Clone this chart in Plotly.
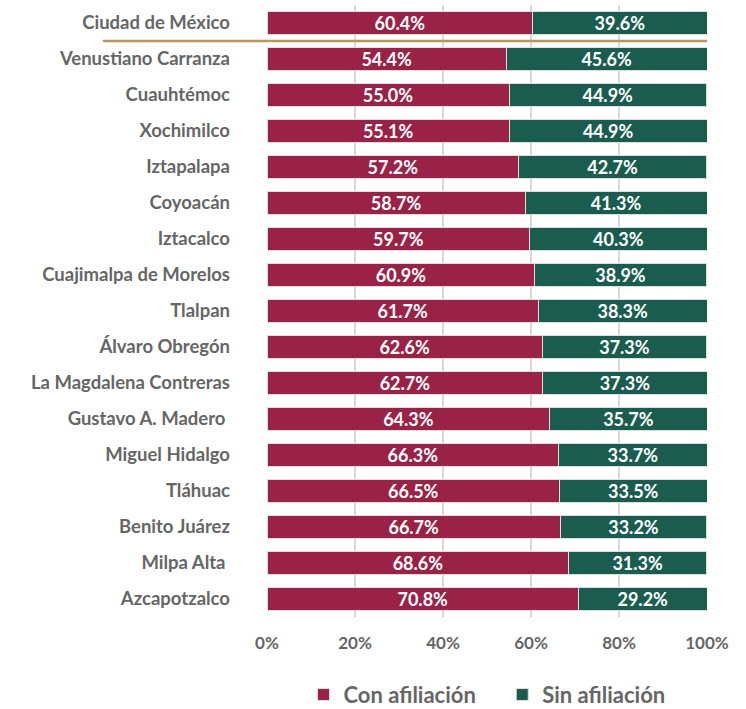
import plotly.graph_objects as go

categories = ["Ciudad de México", "Venustiano Carranza", "Cuauhtémoc", "Xochimilco",
              "Iztapalapa", "Coyoacán", "Iztacalco", "Cuajimalpa de Morelos", "Tlalpan",
              "Álvaro Obregón", "La Magdalena Contreras", "Gustavo A. Madero ",
              "Miguel Hidalgo", "Tláhuac", "Benito Juárez", "Milpa Alta ", "Azcapotzalco"]
con_afiliacion = [60.4, 54.4, 55.0, 55.1, 57.2, 58.7, 59.7, 60.9, 61.7, 62.6, 62.7,
                  64.3, 66.3, 66.5, 66.7, 68.6, 70.8]
sin_afiliacion = [39.6, 45.6, 44.9, 44.9, 42.7, 41.3, 40.3, 38.9, 38.3, 37.3, 37.3,
                  35.7, 33.7, 33.5, 33.2, 31.3, 29.2]
series_names = ["Con afiliación", "Sin afiliación"]
x_ticks = [0, 20, 40, 60, 80, 100]
x_tick_labels = ["0%", "20%", "40%", "60%", "80%", "100%"]

RED = "#9B2247"
GREEN = "#1A5D4F"
GOLD = "#BC955C"
GRAY = "#666666"
FONT = "Lato"

fig = go.Figure()
for name, vals, col, pad in [(series_names[0], con_afiliacion, RED, "\u00a0\u00a0\u00a0\u00a0"),
                             (series_names[1], sin_afiliacion, GREEN, "")]:
    fig.add_trace(go.Bar(
        name=name + pad, y=categories, x=vals, orientation="h",
        marker=dict(color=col, line=dict(color="#dddddd", width=1)),
        text=[f"{v:.1f}%" for v in vals], textposition="inside",
        insidetextanchor="middle", constraintext="none",
        textfont=dict(family=FONT, size=18, color="white", weight="bold"),
        hoverinfo="skip",
    ))

fig.add_shape(type="line", xref="paper", yref="y", x0=-0.373, x1=1.0, y0=0.5, y1=0.5,
              line=dict(color=GOLD, width=2.5), layer="above")

fig.update_layout(
    barmode="stack", bargap=0.36,
    width=746, height=709,
    margin=dict(l=267, r=39, t=5, b=92, autoexpand=False),
    plot_bgcolor="white", paper_bgcolor="white",
    font=dict(family=FONT, color=GRAY),
    uniformtext=dict(mode=False),
    legend=dict(orientation="h", x=0.5, xanchor="center", y=-0.127, yanchor="middle",
                font=dict(family=FONT, size=22, color=GRAY, weight="bold"),
                traceorder="normal", itemwidth=30, tracegroupgap=0),
)
fig.update_xaxes(range=[0, 100], tickvals=x_ticks, ticktext=x_tick_labels,
                 showgrid=True, gridcolor="#d9d9d9", gridwidth=2,
                 zeroline=False, showline=False, automargin=False,
                 tickfont=dict(family=FONT, size=17, color=GRAY, weight="bold"),
                 ticklabelstandoff=14, fixedrange=True)
fig.update_yaxes(autorange="reversed", showgrid=False, showline=False, automargin=False,
                 tickfont=dict(family=FONT, size=18.5, color=GRAY, weight="bold"),
                 ticklabelstandoff=36, fixedrange=True)

fig.write_html("out.html", config={"displayModeBar": False},
               post_script="document.body.style.margin='0';document.body.style.padding='0';")
